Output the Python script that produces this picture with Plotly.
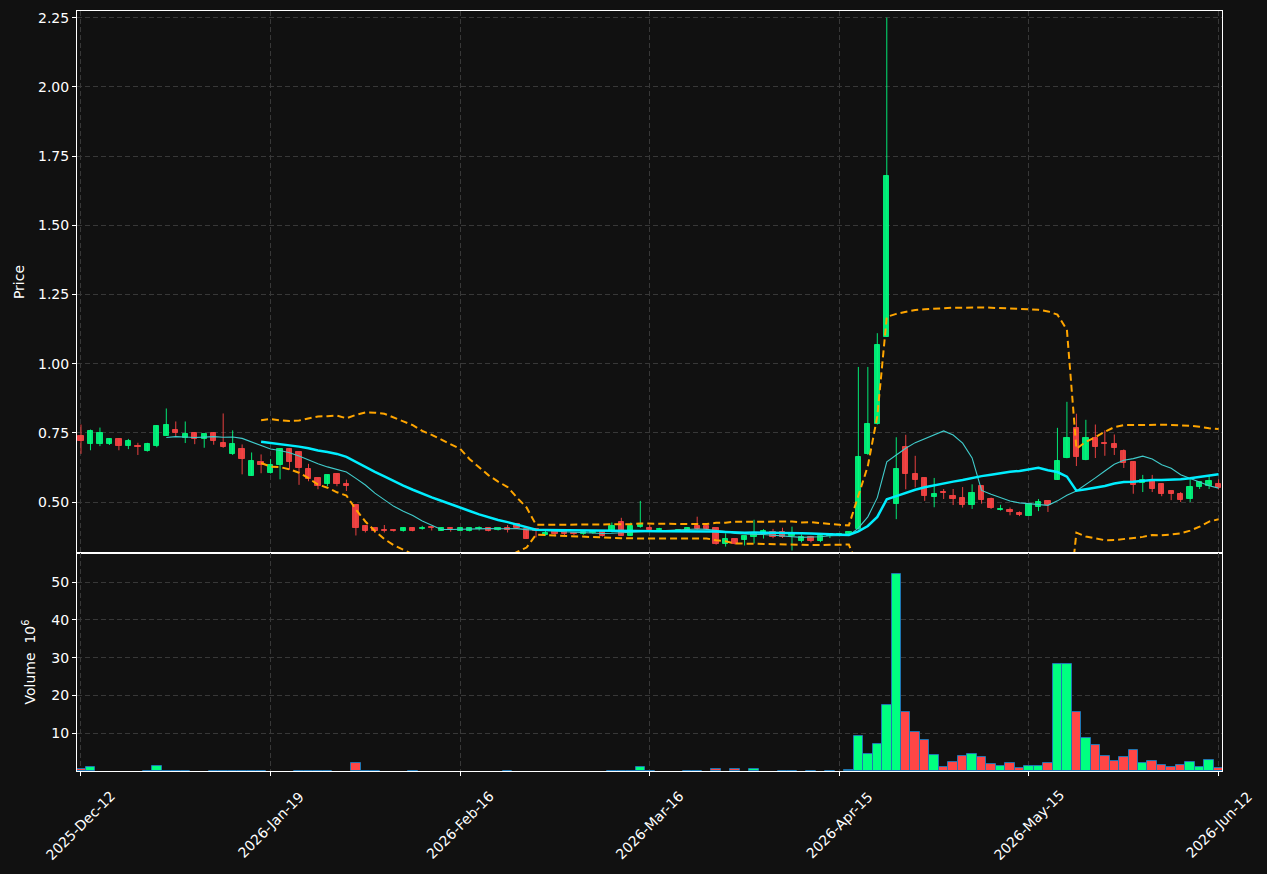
import numpy as np
import pandas as pd
import plotly.graph_objects as go
from plotly.subplots import make_subplots

# ---------------- data ----------------
tick_labels = ["2025-Dec-12", "2026-Jan-19", "2026-Feb-16", "2026-Mar-16",
               "2026-Apr-15", "2026-May-15", "2026-Jun-12"]
tick_index = [0, 20, 40, 60, 80, 100, 120]

opens = [0.737, 0.708, 0.711, 0.708, 0.729, 0.701, 0.701, 0.686, 0.704, 0.740,
         0.762, 0.731, 0.751, 0.726, 0.751, 0.715, 0.672, 0.693, 0.595, 0.646,
         0.604, 0.632, 0.693, 0.679, 0.621, 0.586, 0.564, 0.603, 0.566, 0.490,
         0.412, 0.407, 0.400, 0.400, 0.394, 0.407, 0.401, 0.411, 0.397, 0.407,
         0.397, 0.397, 0.401, 0.405, 0.400, 0.407, 0.419, 0.401, 0.401, 0.382,
         0.394, 0.394, 0.388, 0.385, 0.388, 0.394, 0.394, 0.429, 0.378, 0.408,
         0.407, 0.400, 0.394, 0.397, 0.397, 0.412, 0.412, 0.405, 0.347, 0.366,
         0.362, 0.373, 0.383, 0.390, 0.390, 0.378, 0.358, 0.373, 0.358, 0.378,
         0.380, 0.384, 0.402, 0.673, 0.783, 1.096, 0.494, 0.698, 0.603, 0.586,
         0.517, 0.537, 0.523, 0.516, 0.488, 0.558, 0.510, 0.470, 0.471, 0.459,
         0.451, 0.483, 0.504, 0.581, 0.658, 0.766, 0.651, 0.733, 0.713, 0.711,
         0.686, 0.646, 0.568, 0.579, 0.566, 0.539, 0.530, 0.510, 0.556, 0.559,
         0.565]
highs = [0.780, 0.762, 0.769, 0.729, 0.731, 0.728, 0.714, 0.714, 0.778, 0.838,
         0.791, 0.791, 0.752, 0.745, 0.752, 0.820, 0.759, 0.708, 0.679, 0.672,
         0.655, 0.694, 0.694, 0.679, 0.638, 0.588, 0.598, 0.603, 0.581, 0.491,
         0.417, 0.407, 0.417, 0.400, 0.408, 0.408, 0.414, 0.411, 0.408, 0.408,
         0.408, 0.407, 0.412, 0.405, 0.406, 0.417, 0.419, 0.401, 0.403, 0.396,
         0.394, 0.394, 0.392, 0.395, 0.394, 0.395, 0.426, 0.443, 0.426, 0.504,
         0.417, 0.407, 0.399, 0.400, 0.408, 0.447, 0.412, 0.405, 0.387, 0.367,
         0.376, 0.436, 0.402, 0.403, 0.407, 0.411, 0.383, 0.378, 0.380, 0.388,
         0.386, 0.393, 0.988, 0.988, 1.110, 2.250, 0.734, 0.743, 0.667, 0.588,
         0.587, 0.547, 0.547, 0.554, 0.564, 0.558, 0.516, 0.490, 0.480, 0.466,
         0.493, 0.511, 0.504, 0.768, 0.862, 0.819, 0.797, 0.780, 0.759, 0.744,
         0.690, 0.646, 0.598, 0.598, 0.567, 0.539, 0.536, 0.583, 0.572, 0.597,
         0.582]
lows = [0.674, 0.687, 0.702, 0.706, 0.687, 0.691, 0.670, 0.682, 0.698, 0.739,
        0.737, 0.713, 0.709, 0.696, 0.707, 0.696, 0.670, 0.600, 0.595, 0.604,
        0.603, 0.582, 0.616, 0.562, 0.575, 0.546, 0.557, 0.557, 0.540, 0.379,
        0.390, 0.388, 0.390, 0.393, 0.393, 0.394, 0.400, 0.397, 0.396, 0.393,
        0.396, 0.394, 0.397, 0.394, 0.397, 0.390, 0.403, 0.368, 0.372, 0.378,
        0.376, 0.378, 0.380, 0.382, 0.385, 0.375, 0.390, 0.378, 0.378, 0.407,
        0.397, 0.394, 0.392, 0.394, 0.396, 0.400, 0.401, 0.346, 0.339, 0.346,
        0.343, 0.350, 0.368, 0.369, 0.370, 0.325, 0.354, 0.354, 0.355, 0.370,
        0.376, 0.381, 0.400, 0.670, 0.780, 1.096, 0.438, 0.546, 0.553, 0.504,
        0.481, 0.511, 0.489, 0.480, 0.475, 0.494, 0.475, 0.469, 0.452, 0.449,
        0.450, 0.467, 0.464, 0.580, 0.658, 0.630, 0.651, 0.659, 0.667, 0.670,
        0.623, 0.530, 0.536, 0.536, 0.521, 0.507, 0.500, 0.500, 0.547, 0.547,
        0.545]
closes = [0.719, 0.755, 0.748, 0.729, 0.704, 0.719, 0.698, 0.708, 0.773, 0.780,
          0.748, 0.744, 0.726, 0.744, 0.722, 0.697, 0.708, 0.657, 0.650, 0.634,
          0.632, 0.693, 0.644, 0.622, 0.582, 0.557, 0.598, 0.564, 0.557, 0.405,
          0.394, 0.397, 0.396, 0.394, 0.407, 0.397, 0.405, 0.405, 0.407, 0.403,
          0.407, 0.407, 0.405, 0.394, 0.405, 0.400, 0.405, 0.368, 0.397, 0.387,
          0.383, 0.383, 0.384, 0.391, 0.391, 0.376, 0.412, 0.378, 0.412, 0.416,
          0.400, 0.403, 0.397, 0.398, 0.407, 0.401, 0.401, 0.347, 0.366, 0.347,
          0.376, 0.387, 0.397, 0.373, 0.373, 0.385, 0.373, 0.358, 0.376, 0.385,
          0.383, 0.390, 0.661, 0.781, 1.067, 1.678, 0.621, 0.600, 0.579, 0.521,
          0.530, 0.531, 0.510, 0.488, 0.534, 0.506, 0.478, 0.476, 0.463, 0.452,
          0.493, 0.501, 0.489, 0.650, 0.733, 0.662, 0.733, 0.698, 0.710, 0.694,
          0.640, 0.560, 0.579, 0.546, 0.528, 0.528, 0.506, 0.556, 0.571, 0.577,
          0.551]
# volume in millions
volumes = [0.4, 1.0, 0.0, 0.0, 0.0, 0.0, 0.0, 0.1, 1.3, 0.1,
           0.1, 0.1, 0.0, 0.0, 0.1, 0.1, 0.1, 0.1, 0.1, 0.1,
           0.0, 0.0, 0.0, 0.1, 0.1, 0.1, 0.1, 0.0, 0.0, 2.1,
           0.1, 0.1, 0.0, 0.0, 0.0, 0.1, 0.0, 0.0, 0.0, 0.0,
           0.0, 0.0, 0.0, 0.0, 0.0, 0.1, 0.0, 0.0, 0.0, 0.0,
           0.0, 0.0, 0.0, 0.0, 0.0, 0.0, 0.1, 0.1, 0.1, 1.0,
           0.1, 0.0, 0.0, 0.0, 0.1, 0.1, 0.0, 0.5, 0.0, 0.5,
           0.0, 0.5, 0.0, 0.0, 0.1, 0.1, 0.0, 0.1, 0.0, 0.1,
           0.0, 0.2, 9.2, 4.4, 7.05, 17.4, 52.0, 15.7, 10.4, 8.1,
           4.1, 1.0, 2.5, 3.9, 4.4, 3.6, 1.8, 1.2, 2.0, 0.7,
           1.2, 1.2, 2.0, 28.2, 28.2, 15.5, 8.6, 6.8, 3.9, 2.6,
           3.6, 5.5, 2.0, 2.6, 1.5, 1.0, 1.5, 2.3, 1.0, 2.8,
           0.7]

# ---------------- derived ----------------
df = pd.DataFrame({"o": opens, "h": highs, "l": lows, "c": closes, "v": volumes})
idx = np.arange(len(df))
df["x"] = idx
up = df["c"] >= df["o"]
ma10 = df["c"].rolling(10).mean()
ma20 = df["c"].rolling(20).mean()
sd20 = df["c"].rolling(20).std()
bb_up = ma20 + 2 * sd20
bb_lo = ma20 - 2 * sd20

UP = "#00ff80"
DN = "#ff4646"
BG = "#111111"
FONT = "DejaVu Sans"

fig = make_subplots(rows=2, cols=1, shared_xaxes=True, vertical_spacing=0,
                    row_heights=[0.7132, 0.2868])


def wick_xy(sub):
    xs, ys = [], []
    for _, r in sub.iterrows():
        xs += [r["x"], r["x"], None]
        ys += [r["l"], r["h"], None]
    return xs, ys


for mask, col in [(up, UP), (~up, DN)]:
    sub = df[mask]
    wx, wy = wick_xy(sub)
    fig.add_trace(go.Scatter(x=wx, y=wy, mode="lines",
                             line=dict(color=col, width=1), opacity=0.9,
                             hoverinfo="skip", showlegend=False), row=1, col=1)
    fig.add_trace(go.Bar(x=sub["x"], y=(sub["c"] - sub["o"]).abs(),
                         base=np.minimum(sub["o"], sub["c"]), width=0.56,
                         marker=dict(color=col, line=dict(color=col, width=1)),
                         opacity=0.9, showlegend=False), row=1, col=1)

# moving averages and bands
fig.add_trace(go.Scatter(x=idx, y=ma10, mode="lines",
                         line=dict(color="#40cccc", width=1.1),
                         showlegend=False), row=1, col=1)
fig.add_trace(go.Scatter(x=idx, y=ma20, mode="lines",
                         line=dict(color="#00eeff", width=2.5),
                         showlegend=False), row=1, col=1)
for band in (bb_up, bb_lo):
    fig.add_trace(go.Scatter(x=idx, y=band, mode="lines",
                             line=dict(color="#ffa500", width=2, dash="7px,4px"),
                             showlegend=False), row=1, col=1)

# volume
vcols = [UP if u else DN for u in up]
vline_w = [1 if v > 0 else 0 for v in df["v"]]
fig.add_trace(go.Bar(x=idx, y=df["v"], width=1.0,
                     marker=dict(color=vcols, line=dict(color="#1f77b4", width=vline_w)),
                     showlegend=False), row=2, col=1)

grid = dict(showgrid=True, gridcolor="#383838", griddash="5px,3px", gridwidth=1,
            showline=True, mirror=True, linecolor="white", linewidth=1,
            zeroline=False, tickfont=dict(family=FONT, size=14, color="white"),
            ticks="outside", ticklen=4, tickcolor="white")

fig.update_xaxes(**grid, range=[-0.42, 120.36], tickvals=tick_index,
                 ticktext=tick_labels)
fig.update_xaxes(showticklabels=False, ticks="", row=1, col=1)
fig.update_xaxes(showticklabels=False, row=2, col=1)

# rotated date labels centred under their ticks (matplotlib style)
for ti, tl in zip(tick_index, tick_labels):
    fig.add_annotation(x=ti, xref="x2", y=-0.0711, yref="paper",
                       text=tl, textangle=-45, showarrow=False,
                       xanchor="center", yanchor="middle",
                       font=dict(family=FONT, size=14, color="white"))

fig.update_yaxes(**grid)
fig.update_yaxes(range=[0.3157, 2.274], tickvals=[0.5, 0.75, 1.0, 1.25, 1.5, 1.75, 2.0, 2.25],
                 tickformat=".2f",
                 title=dict(text="Price", font=dict(family=FONT, size=14, color="white"),
                            standoff=10),
                 row=1, col=1)
fig.update_yaxes(range=[0, 57.67], tickvals=[10, 20, 30, 40, 50],
                 title=dict(text="Volume  10<sup>6</sup>",
                            font=dict(family=FONT, size=14, color="white"),
                            standoff=12),
                 row=2, col=1)

fig.update_layout(width=1267, height=874, paper_bgcolor=BG, plot_bgcolor=BG,
                  margin=dict(l=77, r=45, t=11, b=103, autoexpand=False),
                  barmode="overlay", bargap=0,
                  font=dict(family=FONT, size=14, color="white"),
                  showlegend=False)

fig.write_html("out.html")
